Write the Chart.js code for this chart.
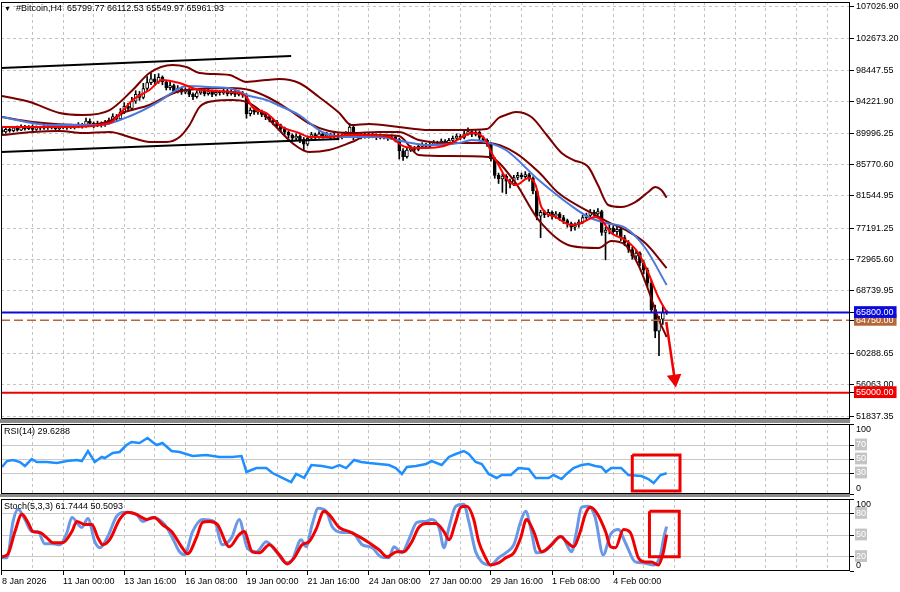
<!DOCTYPE html>
<html>
<head>
<meta charset="utf-8">
<title>#Bitcoin,H4</title>
<script src="https://cdn.jsdelivr.net/npm/chart.js@4.4.1/dist/chart.umd.min.js"></script>
<style>
  body { margin: 0; width: 900px; height: 592px; overflow: hidden; position: relative; background: #fff;
         font-family: "Liberation Sans", Arial, sans-serif; }
  canvas { position: absolute; left: 0; display: block; }
  .sep { position: absolute; left: 0; width: 850px; background: #8a8a8a; }
  .cap { position: absolute; left: 4px; font-size: 9px; color: #000; white-space: pre; }
</style>
</head>
<body>
<canvas id="mainChart" width="900" height="420" style="top:0"></canvas>
<canvas id="rsiChart" width="900" height="72" style="top:423px"></canvas>
<canvas id="stochChart" width="900" height="95" style="top:497px"></canvas>
<div class="sep" style="top:419px;height:4px"></div>
<div class="sep" style="top:494px;height:3px"></div>
<div class="cap" style="top:3px"><span style="font-size:7px">▼</span>  #Bitcoin,H4  65799.77 66112.53 65549.97 65961.93</div>
<div class="cap" style="top:426px">RSI(14) 29.6288</div>
<div class="cap" style="top:501px">Stoch(5,3,3) 61.7444 50.5093</div>
<script>
// ---- time axis: one label every 16 H4 bars, grid every 8 bars
const timeLabels = ['8 Jan 2026', '11 Jan 00:00', '13 Jan 16:00', '16 Jan 08:00', '19 Jan 00:00', '21 Jan 16:00',
                    '24 Jan 08:00', '27 Jan 00:00', '29 Jan 16:00', '1 Feb 08:00', '4 Feb 00:00'];
const barsPerLabel = 16;
const gridStep = 8;

// ---- H4 candles (bar index 0 = 8 Jan 08:00)
const opens = [
  90400, 90150, 90500, 90300, 90700, 90400, 90900, 90600, 90850, 90500,
  90750, 90650, 90900, 90700, 90800, 90600, 90750, 90900, 90700, 90950,
  90800, 91100, 90900, 91600, 91300, 91000, 91300, 91100, 91400, 91700,
  92200, 91900, 92800, 93600, 93300, 94300, 95200, 94800, 96000, 96800,
  97300, 96900, 97500, 96900, 96100, 96400, 95600, 96000, 95500, 95800,
  95200, 94900, 95400, 95700, 95300, 95600, 95200, 95500, 95400, 95700,
  95300, 95600, 95200, 95400, 95100, 92600, 93100, 92800, 92900, 92500,
  92200, 91800, 91500, 91000, 90600, 90100, 89700, 89300, 89600, 89100,
  88500, 89300, 89800, 89500, 89900, 89600, 89800, 89500, 89700, 89400,
  89600, 89900, 90800, 89700, 89800, 89500, 89800, 89600, 89700, 89400,
  89600, 89500, 89300, 89500, 89100, 87600, 86800, 87700, 88000, 87800,
  88200, 88400, 88200, 88500, 88700, 88600, 88900, 88700, 89000, 89300,
  89600, 89400, 89900, 90200, 89800, 90100, 89400, 89000, 88500, 86500,
  84300, 83800, 84200, 83500, 83200, 84000, 84300, 84100, 84400, 83900,
  82200, 78800, 79300, 79000, 79300, 78800, 79100, 78600, 78200, 77800,
  77300, 77600, 78000, 78600, 78900, 79300, 79100, 79400, 76600, 76900,
  77200, 76700, 77000, 75900, 75200, 74300, 73400, 73800, 72500, 71500,
  69800, 66200, 63300, 64900, 65799.77
];
const highs = [
  90700, 90750, 90800, 90900, 90950, 91100, 91050, 91000, 91100, 90950,
  90900, 91100, 91000, 91000, 90950, 91000, 91100, 91050, 91200, 91150,
  91400, 91300, 92000, 91900, 91500, 91600, 91500, 91700, 92000, 92600,
  92500, 93300, 94100, 94000, 94800, 95700, 95600, 96700, 97600, 98100,
  97900, 98000, 97700, 97100, 96900, 96600, 96400, 96200, 96100, 96000,
  95400, 95700, 96000, 95900, 95900, 95800, 95800, 95700, 95950, 95900,
  95850, 95800, 95700, 95600, 95300, 93400, 93300, 93200, 93100, 92700,
  92400, 92000, 91700, 91200, 90800, 90300, 89900, 89900, 89800, 89400,
  89600, 90100, 90000, 90200, 90100, 90100, 89950, 90000, 89900, 89900,
  90200, 91300, 91100, 90100, 90000, 90100, 90000, 89950, 89900, 89850,
  89800, 89700, 89750, 89700, 89300, 87900, 88000, 88300, 88200, 88500,
  88700, 88600, 88800, 89000, 88900, 89200, 89100, 89300, 89600, 89900,
  89800, 90300, 90700, 90400, 90400, 90300, 89600, 89200, 88700, 86700,
  84600, 84500, 84400, 83800, 84300, 84700, 84600, 84800, 84600, 84100,
  82400, 79600, 79600, 79700, 79500, 79400, 79300, 78900, 78400, 78000,
  77900, 78300, 78900, 79200, 79700, 79600, 79800, 79600, 77300, 77600,
  77500, 77400, 77200, 76200, 75500, 74600, 74200, 74000, 72800, 71800,
  70200, 66800, 65300, 66600, 66112.53
];
const lows = [
  89900, 89950, 90100, 90150, 90250, 90300, 90400, 90450, 90300, 90350,
  90400, 90500, 90500, 90550, 90400, 90450, 90600, 90500, 90600, 90550,
  90700, 90650, 90800, 91000, 90700, 90850, 90800, 90900, 91200, 91500,
  91600, 91800, 92600, 92900, 93100, 94000, 94400, 94600, 95700, 96500,
  96400, 96700, 96500, 95800, 95800, 95300, 95400, 95200, 95300, 94900,
  94500, 94700, 95200, 95000, 95100, 94900, 95000, 95100, 95200, 95000,
  95100, 94900, 95000, 94800, 92000, 92300, 92500, 92500, 92200, 91800,
  91500, 91100, 90700, 90300, 89800, 89300, 88900, 89000, 88700, 87600,
  88300, 89100, 89200, 89300, 89300, 89400, 89200, 89300, 89100, 89200,
  89400, 89700, 89100, 89400, 89200, 89300, 89300, 89350, 89100, 89200,
  89200, 89000, 89100, 88800, 86500, 86300, 86600, 87500, 87500, 87600,
  88000, 87900, 88000, 88300, 88300, 88400, 88400, 88500, 88800, 89100,
  89100, 89200, 89700, 89500, 89600, 89100, 88700, 88200, 86200, 83900,
  83200, 82000, 81800, 82600, 82900, 83700, 83800, 83900, 83500, 81800,
  78300, 75900, 78600, 78700, 78400, 78500, 78200, 77800, 77300, 76800,
  76900, 77300, 77800, 78300, 78700, 78800, 78900, 76200, 72900, 76400,
  76300, 76300, 75500, 74800, 73900, 73000, 73000, 72100, 71000, 69300,
  65900, 62400, 60000, 64200, 65549.97
];
const closes = [
  90150, 90500, 90300, 90700, 90400, 90900, 90600, 90850, 90500, 90750,
  90650, 90900, 90700, 90800, 90600, 90750, 90900, 90700, 90950, 90800,
  91100, 90900, 91600, 91300, 91000, 91300, 91100, 91400, 91700, 92200,
  91900, 92800, 93600, 93300, 94300, 95200, 94800, 96000, 96800, 97300,
  96900, 97500, 96900, 96100, 96400, 95600, 96000, 95500, 95800, 95200,
  94900, 95400, 95700, 95300, 95600, 95200, 95500, 95400, 95700, 95300,
  95600, 95200, 95400, 95100, 92600, 93100, 92800, 92900, 92500, 92200,
  91800, 91500, 91000, 90600, 90100, 89700, 89300, 89600, 89100, 88500,
  89300, 89800, 89500, 89900, 89600, 89800, 89500, 89700, 89400, 89600,
  89900, 90800, 89700, 89800, 89500, 89800, 89600, 89700, 89400, 89600,
  89500, 89300, 89500, 89100, 87600, 86800, 87700, 88000, 87800, 88200,
  88400, 88200, 88500, 88700, 88600, 88900, 88700, 89000, 89300, 89600,
  89400, 89900, 90200, 89800, 90100, 89400, 89000, 88500, 86500, 84300,
  83800, 84200, 83500, 83200, 84000, 84300, 84100, 84400, 83900, 82200,
  78800, 79300, 79000, 79300, 78800, 79100, 78600, 78200, 77800, 77300,
  77600, 78000, 78600, 78900, 79300, 79100, 79400, 76600, 76900, 77200,
  76700, 77000, 75900, 75200, 74300, 73400, 73800, 72500, 71500, 69800,
  66200, 63300, 64900, 65800, 65961.93
];

// ---- indicators as [bar index, value]
const bbUpper = [[0,94990],[7.3,94180],[15.1,92700],[21.1,92430],[28.2,93100],[34.2,95800],[38.6,98090],[44.6,99170],
  [48.3,98900],[51.7,98090],[59.5,97820],[64,96880],[69.2,97150],[72.6,97280],[77.8,96740],[83,94850],[88.3,92700],
  [91.4,91080],[96.1,91220],[103.9,90810],[111.7,90410],[119.6,90410],[126.9,90540],[130,92020],[131.9,92430],
  [134.5,92830],[138.6,92160],[142.6,89730],[146.5,87300],[149.6,86360],[153.5,85420],[156,82990],[158.7,80300],
  [162.1,80030],[165.8,80700],[169.2,82050],[171,82720],[172.6,82320],[174,81300]];
const bbMiddle = [[0,92160],[8.1,91480],[21.1,91080],[28.2,91620],[31.6,92700],[38.6,93780],[45.7,95530],[51.7,95930],
  [59.5,96070],[64.8,95800],[70,94720],[75.2,93100],[80.4,91300],[85.6,90270],[91.6,90000],[98.7,90140],[103.9,90140],
  [109.1,89060],[117,88650],[127.4,88650],[134.5,87300],[140.5,84740],[145.7,81900],[154.3,79220],[158.7,78000],
  [163.2,76930],[168.4,75170],[174,71800]];
const bbLower = [[0,89730],[8.1,90140],[15.1,90270],[21.1,90000],[28.2,90140],[34.2,89330],[38.6,88790],[43.1,88790],
  [46.5,89460],[49.1,91080],[51.7,93500],[55.6,94320],[60.3,94450],[64,94180],[67.4,93100],[71.3,91080],[76,88650],
  [80.4,87440],[85.6,87710],[91.6,88790],[96.1,89730],[103.9,89600],[109.1,87040],[117,86900],[127.4,86770],
  [133.9,83670],[140.5,78270],[149.1,74770],[156.2,74500],[159.5,75440],[163.2,74900],[166.6,72210],[169.2,68840],
  [171.8,65060],[174,62500]];
const maSlow = [[0,92160],[12.5,91080],[25.6,91080],[34.2,92430],[40.5,94050],[45.7,95800],[48.3,96340],[54.3,96200],
  [60.3,95930],[64,95120],[69.2,94450],[73.4,93510],[77.8,92430],[83.8,90140],[90.1,89460],[98.7,89460],[105.7,88790],
  [111.7,88380],[119.6,88650],[123,89060],[126.6,88790],[131.9,87710],[140.5,83670],[149.1,80160],[153.5,78680],
  [158,77870],[163.2,77200],[168.4,74500],[174,69510]];
const maFast = [[0,90810],[17,90810],[28.2,91350],[31.3,92830],[34.2,94450],[38.6,95800],[42,97150],[46.5,96740],
  [51.7,95800],[60.3,95530],[64,94850],[65.5,93510],[69.2,92700],[73.4,90810],[77.8,90000],[80.4,89460],[85.6,89460],
  [90.1,89730],[94.3,89730],[101.3,89460],[105.7,88110],[109.9,87980],[114.4,88110],[117.8,88650],[121.4,89730],
  [123.5,90000],[126.6,89060],[128.2,87300],[130,85690],[131.9,83940],[134.5,82990],[137.9,83940],[139.7,82990],
  [141.2,80030],[144.9,78680],[149.1,77600],[151.7,77870],[155.3,78680],[156.9,78270],[159.5,76520],[163.2,75580],
  [166.6,73830],[169.2,71130],[171.8,67890],[174,65870]];

// ---- drawn objects
const channelUpper = [[-0.3,98760],[75.7,100380]];
const channelLower = [[-0.3,87440],[88.3,89190]];
const levelPrices = [64750, 65800, 55000];
const arrowPath = [[173.9,64520],[176.1,56840]];
const priceTicks = [107026.90, 102673.20, 98447.55, 94221.90, 89996.25, 85770.60, 81544.95, 77191.25,
                    72965.60, 68739.95, 60288.65, 56063.00, 51837.35];

// ---- RSI(14)
const rsiLine = [[0,38.6],[1.3,47.1],[2.9,48.6],[4.7,45.7],[6,40],[7.8,50],[9.1,45.7],[11.7,45.7],[14.4,44.3],[17,47.1],
  [19.6,48.6],[20.9,47.1],[22.5,61.4],[24.3,45.7],[26.1,52.9],[26.9,51.4],[29,58.6],[30.8,60],[32.6,70],[33.9,74.3],
  [36,72.9],[38.1,80],[39.4,74.3],[40.5,70],[42,72.9],[44.4,61.4],[46.5,60],[49.9,54.3],[53.5,55.7],[56.9,52.9],
  [60.3,52.9],[62.7,54.3],[64,31.4],[66.6,37.1],[69.2,37.1],[70.8,30],[73.4,22.9],[75.7,17.1],[77,28.6],[79.1,22.9],
  [81,41.4],[83.8,40],[86.4,37.1],[88.3,41.4],[90.1,37.1],[92.2,48.6],[94,45.7],[96.1,44.3],[98.7,42.9],[101.3,41.4],
  [103.1,37.1],[104.7,28.6],[106,38.6],[108.4,40],[111,42.9],[112.5,47.1],[115.1,41.4],[117,52.9],[118.8,57.1],
  [120.9,61.4],[122.2,57.1],[124,45.7],[125.6,42.9],[127.4,28.6],[129.5,22.9],[130.8,27.1],[133.2,27.1],[135.2,37.1],
  [137.9,35.7],[139.7,22.9],[143.1,22.9],[144.4,27.1],[146.5,21.4],[147.8,28.6],[149.6,37.1],[151.7,41.4],[153.5,42.9],
  [155.3,40],[156.9,38.6],[158.1,31.4],[159.5,37.1],[162.1,37.1],[164,27.1],[167.4,25.7],[169.2,21.4],[170.6,15.7],
  [172.4,27.1],[174,29.6]];
const rsiLevels = [30, 50, 70];
const rsiBox = [[165,55.7],[177.5,55.7],[177.5,4.3],[165,4.3],[165,55.7]];

// ---- Stochastic(5,3,3)
const stochMain = [[0,18.3],[1.3,18.3],[2.9,68.8],[4.2,85.7],[6,71.6],[7.8,54.8],[9.4,54.8],[11.2,37.9],[13.3,37.9],
  [15.1,36.5],[17,53.4],[18.3,74.4],[20.9,60.4],[22.5,73],[24.3,40.7],[25.6,32.3],[27.7,47.8],[30,75.8],[32.1,81.5],
  [35.2,78.7],[36.8,68.8],[39.4,74.4],[42.6,64.6],[44.6,46.3],[46.5,26.7],[47.8,22.5],[49.9,54.8],[52.5,71.6],
  [55.6,68.8],[57.7,36.5],[60.1,46.3],[62.1,71.6],[64.2,32.3],[66.6,26.7],[69.2,40.7],[71.8,26.7],[74.4,11.2],[76,15.4],
  [78.3,43.5],[79.6,33.7],[81.2,64.6],[82.8,87.1],[84.9,82.9],[86.4,61.8],[89,53.4],[91.6,53.4],[94.3,36.5],[96.9,32.3],
  [99.2,19.7],[101.3,18.3],[102.6,33.7],[104.7,25.3],[106.5,43.5],[108.6,67.4],[111,68.8],[112.5,71.6],[114.4,60.4],
  [115.7,32.3],[117,60.4],[118.8,89.9],[120.9,92.7],[122.2,68.8],[124,26.7],[125.6,12.6],[127.9,8.4],[130,18.3],
  [131.9,25.3],[134,36.5],[135.8,68.8],[137.1,82.9],[138.6,54.8],[139.9,25.3],[142.6,29.5],[144.9,43.5],[146.5,47.8],
  [149.1,26.7],[150.4,54.8],[151.7,88.5],[153.5,89.9],[155.3,74.4],[157.4,22.5],[159.3,50.6],[161.4,57.6],[163.2,39.3],
  [165.8,12.6],[167.9,11.2],[170.6,8.4],[172.4,22.5],[173.3,47.8],[174,61.7]];
const stochSignal = [[0,19.7],[1.6,23.9],[3.4,54.8],[5.2,78.7],[6.8,67.4],[8.1,54.8],[9.9,53.4],[11.7,46.3],[13.3,39.3],
  [15.9,39.3],[18.3,54.8],[19.6,68.8],[21.7,64.6],[23.5,64.6],[25.1,46.3],[26.4,36.5],[28.2,43.5],[30.8,71.6],
  [32.9,81.5],[35.2,78.7],[37.9,71.6],[39.9,74.4],[42,64.6],[44.4,54.8],[47,33.7],[48.6,23.9],[50.9,46.3],[52.5,67.4],
  [54.3,68.8],[56.4,64.6],[59.5,33.7],[62.1,50.6],[63.4,54.8],[65.5,26.7],[67.4,25.3],[70,36.5],[72.6,22.5],[74.7,9.8],
  [76.5,18.3],[78.6,36.5],[80.4,40.7],[82.2,57.6],[84.3,82.9],[85.6,78.7],[88.3,60.4],[90.9,54.8],[93.5,47.8],
  [96.1,39.3],[98.7,29.5],[100.8,19.7],[103.4,26.7],[105.2,26.7],[107.3,40.7],[109.1,60.4],[111.2,66],[113.6,66],
  [115.7,54.8],[117,43.5],[118.8,68.8],[120.1,88.5],[121.7,89.9],[123.5,71.6],[124.8,40.7],[126.6,18.3],[127.9,8.4],
  [130,11.2],[131.9,18.3],[134,25.3],[135.8,46.3],[137.3,71.6],[139.2,54.8],[141.3,26.7],[143.9,36.5],[146.2,47.8],
  [147.8,40.7],[149.6,33.7],[151.4,54.8],[152.7,78.7],[154,88.5],[155.6,81.5],[158,54.8],[159.3,33.7],[160.6,32.3],
  [162.7,57.6],[164.5,53.4],[166.6,18.3],[168.4,12.6],[170,12.6],[171.8,8.4],[173.1,25.3],[174,50.5]];
const stochLevels = [20, 50, 80];
const stochBox = [[169.5,82.9],[177.3,82.9],[177.3,19.7],[169.5,19.7],[169.5,82.9]];

// ---- view / styling
const X_MIN = -0.26, X_MAX = 222;
const FONT = { family: '"Liberation Sans", Arial, sans-serif', size: 9 };
const GRID = '#c3c3c3';
const NONE = 'rgba(0,0,0,0)';
const levelStyle = { 64750: '#b4683a', 65800: '#0a0adc', 55000: '#f00000' };

const pts = arr => arr.map(([x, y]) => ({ x, y }));
const isLabelTick = v => v % barsPerLabel === 0 && v / barsPerLabel < timeLabels.length;

// black frame around each pane
const frame = {
  id: 'frame',
  afterDraw(chart) {
    const a = chart.chartArea, ctx = chart.ctx;
    ctx.save();
    ctx.strokeStyle = '#000';
    ctx.lineWidth = 1;
    ctx.strokeRect(a.left + 0.5, a.top + 0.5, a.right - a.left - 1, a.bottom - a.top - 1);
    ctx.restore();
  }
};

function xAxis(withLabels) {
  return {
    type: 'linear', min: X_MIN, max: X_MAX, offset: false,
    afterBuildTicks: s => {
      const t = [];
      for (let v = 0; v <= X_MAX; v += gridStep) t.push({ value: v });
      s.ticks = t;
    },
    afterFit: s => { s.paddingLeft = 0; s.paddingRight = 0; s.height = withLabels ? 21 : 0; },
    grid: { offset: false, color: GRID, drawTicks: withLabels, tickLength: 4,
            tickColor: c => (c.tick && isLabelTick(c.tick.value)) ? '#000' : NONE },
    border: { display: false, dash: [3, 3] },
    ticks: { display: withLabels, autoSkip: false, maxRotation: 0, minRotation: 0, align: 'start',
             padding: 1, color: '#000', font: FONT,
             callback: v => isLabelTick(v) ? timeLabels[v / barsPerLabel] : '' }
  };
}

function oscAxis(levels) {
  return {
    position: 'right', min: 0, max: 100,
    afterBuildTicks: s => { s.ticks = [0].concat(levels, [100]).map(v => ({ value: v })); },
    afterFit: s => { s.width = 50; s.paddingTop = 0; s.paddingBottom = 0; },
    grid: { color: c => levels.includes(c.tick.value) ? '#c8c8c8' : NONE, lineWidth: 1,
            drawTicks: true, tickLength: 4, tickColor: '#000' },
    border: { display: false },
    ticks: { autoSkip: false, padding: 2, font: FONT,
             color: c => levels.includes(c.tick.value) ? '#fff' : '#000',
             showLabelBackdrop: c => levels.includes(c.tick.value),
             backdropColor: '#c4c4c4',
             backdropPadding: { left: 1, right: 1, top: 1, bottom: 0 },
             callback: v => v === 100 ? ['', '100'] : v === 0 ? ['0', ''] : String(v) }
  };
}

const lineDs = (data, color, width, order, extra) => Object.assign({
  type: 'line', data: pts(data), borderColor: color, borderWidth: width, pointRadius: 0,
  cubicInterpolationMode: 'monotone', fill: false, order: order
}, extra || {});

const common = {
  responsive: false, animation: false, devicePixelRatio: 1, events: [],
  plugins: { legend: { display: false }, tooltip: { enabled: false } }
};

// ---- main price pane
new Chart(document.getElementById('mainChart'), {
  type: 'line',
  data: {
    datasets: [
      ...levelPrices.map(p => lineDs([[X_MIN, p], [X_MAX, p]], levelStyle[p], p === 64750 ? 1.5 : 2, 1,
        { borderDash: p === 64750 ? [9, 4] : [], cubicInterpolationMode: 'default', tension: 0 })),
      lineDs(arrowPath, '#f00000', 2.5, 0, {
        tension: 0, cubicInterpolationMode: 'default', pointRadius: [0, 6], pointStyle: 'triangle',
        rotation: 172, pointBackgroundColor: '#f00000', pointBorderColor: '#f00000', clip: false }),
      lineDs(channelUpper, '#000', 2, 2, { tension: 0, cubicInterpolationMode: 'default' }),
      lineDs(channelLower, '#000', 2, 2, { tension: 0, cubicInterpolationMode: 'default' }),
      lineDs(maFast, '#ff0000', 2, 3),
      lineDs(maSlow, '#4a78dc', 2, 4),
      lineDs(bbUpper, '#7a0000', 2, 5),
      lineDs(bbMiddle, '#7a0000', 2, 5),
      lineDs(bbLower, '#7a0000', 2, 5),
      {
        type: 'bar', order: 20, grouped: false, barThickness: 1, backgroundColor: '#000',
        data: closes.map((c, i) => ({ x: i, y: [lows[i], highs[i]] }))
      },
      {
        type: 'bar', order: 19, grouped: false, barThickness: 3, minBarLength: 1,
        borderWidth: 1, borderColor: '#000', borderSkipped: false,
        backgroundColor: closes.map((c, i) => c >= opens[i] ? '#fff' : '#000'),
        data: closes.map((c, i) => ({ x: i, y: [opens[i], c] }))
      }
    ]
  },
  options: Object.assign({}, common, {
    layout: { autoPadding: false, padding: { left: 1, top: 2, right: 0, bottom: 1 } },
    scales: {
      x: xAxis(false),
      y: {
        position: 'right', min: 51450, max: 107660,
        afterBuildTicks: s => { s.ticks = priceTicks.concat(levelPrices).map(v => ({ value: v })); },
        afterFit: s => { s.width = 50; s.paddingTop = 0; s.paddingBottom = 0; },
        grid: { color: c => levelPrices.includes(c.tick.value) ? NONE : GRID,
                drawTicks: true, tickLength: 4, tickColor: '#000' },
        border: { display: false, dash: [3, 3] },
        ticks: { autoSkip: false, padding: 2, font: FONT,
                 color: c => levelPrices.includes(c.tick.value) ? '#fff' : '#000',
                 showLabelBackdrop: c => levelPrices.includes(c.tick.value),
                 backdropColor: c => levelStyle[c.tick.value] || NONE,
                 backdropPadding: { left: 2, right: 3, top: 1, bottom: 0 },
                 callback: v => v.toFixed(2) }
      }
    }
  }),
  plugins: [frame]
});

// ---- RSI pane
new Chart(document.getElementById('rsiChart'), {
  type: 'line',
  data: {
    datasets: [
      lineDs(rsiBox, '#ee0000', 3, 0, { tension: 0, cubicInterpolationMode: 'default' }),
      lineDs(rsiLine, '#1e8fff', 2.5, 1, { tension: 0, cubicInterpolationMode: 'default' })
    ]
  },
  options: Object.assign({}, common, {
    layout: { autoPadding: false, padding: { left: 1, top: 1, right: 0, bottom: 1 } },
    scales: { x: xAxis(false), y: oscAxis(rsiLevels) }
  }),
  plugins: [frame]
});

// ---- Stochastic pane
new Chart(document.getElementById('stochChart'), {
  type: 'line',
  data: {
    datasets: [
      lineDs(stochBox, '#ee0000', 3, 0, { tension: 0, cubicInterpolationMode: 'default' }),
      lineDs(stochSignal, '#f00000', 3, 1),
      lineDs(stochMain, '#6a98e6', 3, 2)
    ]
  },
  options: Object.assign({}, common, {
    layout: { autoPadding: false, padding: { left: 1, top: 2, right: 0, bottom: 0 } },
    scales: { x: xAxis(true), y: oscAxis(stochLevels) }
  }),
  plugins: [frame]
});
</script>
</body>
</html>
